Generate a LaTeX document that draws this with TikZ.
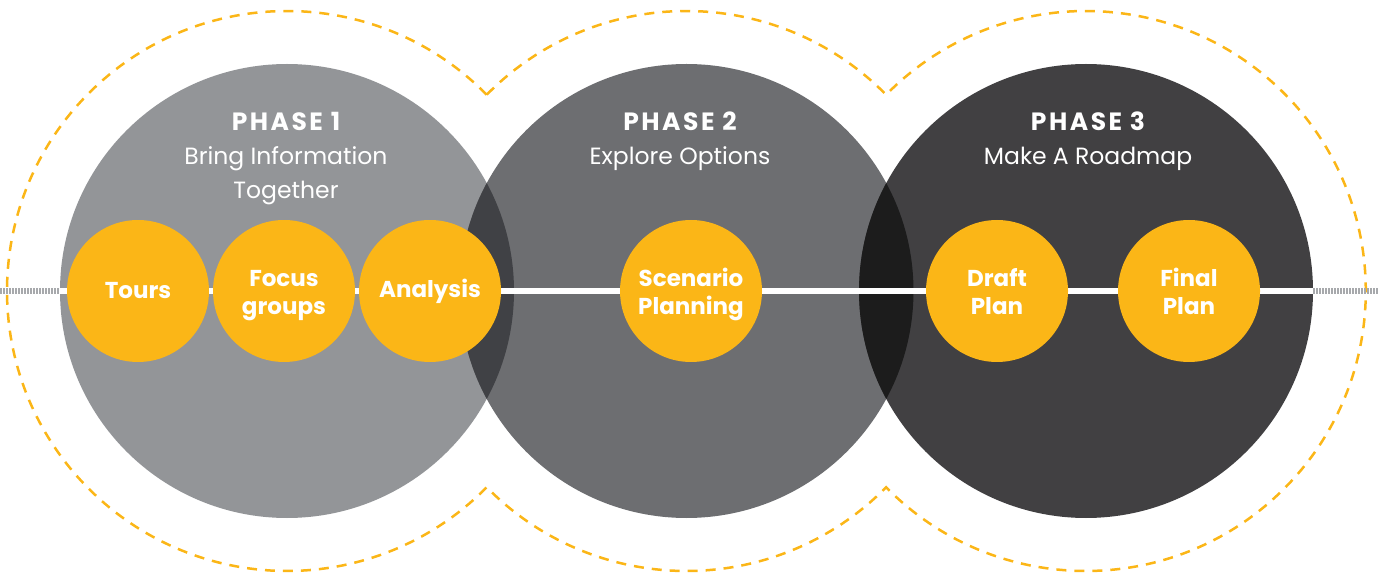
\documentclass[tikz,border=0pt]{standalone}
\usepackage{fontspec}
\setmainfont{Poppins}
\newfontfamily\phasefont[LetterSpace=10]{Poppins}
\usepackage{xcolor}
\usepackage{tikz}
\usetikzlibrary{shapes.geometric, calc}
\definecolor{phaseone}{HTML}{939598}
\definecolor{phasetwo}{HTML}{6D6E71}
\definecolor{phasethree}{HTML}{414042}
\definecolor{lensone}{HTML}{404145}
\definecolor{lenstwo}{HTML}{1C1C1C}
\definecolor{stepyellow}{HTML}{FBB617}
\definecolor{tickgray}{HTML}{A7A9AC}
\newcommand{\phasehead}[1]{{\phasefont\bfseries\fontsize{25}{34}\selectfont #1}}
\tikzstyle{phasecircle} = [circle, minimum size=454pt, inner sep=0pt, draw=none]
\tikzstyle{stepcircle} = [circle, minimum size=142pt, inner sep=0pt, fill=stepyellow, text=white, align=center, font=\fontsize{23}{28}\selectfont\bfseries]
\tikzstyle{steptwo} = [stepcircle, text height=50pt, text depth=3pt]
\tikzstyle{phasetitle} = [anchor=north, inner sep=0pt, text=white, align=center, font=\fontsize{23.5}{34}\selectfont]
\tikzstyle{dashline} = [stepyellow, line width=2.5pt, dash pattern=on 10pt off 8pt]
\tikzstyle{tickline} = [tickgray, line width=6pt, dash pattern=on 1.5pt off 1.5pt]
\tikzstyle{mainline} = [white, line width=6pt]

\begin{document}
\begin{tikzpicture}[x=1pt, y=1pt, node distance=146pt]
    \useasboundingbox (0,-284) rectangle (1378,291);

    % Phases
    \node (phase1) [phasecircle, fill=phaseone] at (287,0) {};
    \node (phase2) [phasecircle, fill=phasetwo] at (686.5,0) {};
    \node (phase3) [phasecircle, fill=phasethree] at (1086,0) {};
    \begin{scope}
        \clip (phase1.center) circle[radius=227pt];
        \fill[lensone] (phase2.center) circle[radius=227pt];
    \end{scope}
    \begin{scope}
        \clip (phase2.center) circle[radius=227pt];
        \fill[lenstwo] (phase3.center) circle[radius=227pt];
    \end{scope}

    % Outline
    \coordinate (cusp) at ($(phase1.center)+(44.5:280pt)$);
    \draw [dashline] (cusp) arc[start angle=44.5, end angle=315.5, radius=280pt]
        arc[start angle=224.5, end angle=315.5, radius=280pt]
        arc[start angle=224.5, end angle=495.5, radius=280pt]
        arc[start angle=44.5, end angle=135.5, radius=280pt] -- cycle;

    % Timeline
    \coordinate (leftend) at (0,0);
    \coordinate (rightend) at (1378,0);
    \draw [tickline] (leftend) -- (phase1.west);
    \draw [tickline] (phase3.east) -- (rightend);
    \draw [mainline] (phase1.west) -- (phase3.east);

    % Titles
    \node (title1) [phasetitle] at (286,179) {\phasehead{PHASE 1}\\Bring Information\\Together};
    \node (title2) [phasetitle] at (680,179) {\phasehead{PHASE 2}\\Explore Options};
    \node (title3) [phasetitle] at (1088,179) {\phasehead{PHASE 3}\\Make A Roadmap};

    % Steps
    \node (tours) [stepcircle] at (138,0) {Tours};
    \node (focus) [steptwo, right of=tours] {Focus\\groups};
    \node (analysis) [stepcircle, right of=focus] {Analysis};
    \node (scenario) [steptwo] at (691,0) {Scenario\\Planning};
    \node (draft) [steptwo] at (997,0) {Draft\\Plan};
    \node (final) [steptwo, right of=draft, xshift=46pt] {Final\\Plan};

\end{tikzpicture}
\end{document}
